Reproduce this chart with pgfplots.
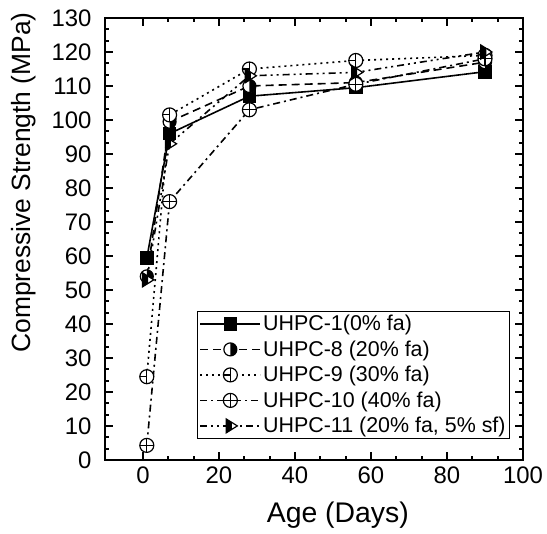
\documentclass[border=0pt]{standalone}
\usepackage{pgfplots}
\pgfplotsset{compat=1.18}
\usepackage{fontspec}
\setmainfont{Liberation Sans}
\pgfdeclareplotmark{halfcircR}{%
  \pgfpathcircle{\pgfpointorigin}{\pgfplotmarksize}\pgfsetfillcolor{white}\pgfusepath{fill}%
  \pgfpathmoveto{\pgfqpoint{0pt}{\pgfplotmarksize}}%
  \pgfpatharc{90}{-90}{\pgfplotmarksize}\pgfpathclose
  \pgfsetfillcolor{black}\pgfusepath{fill}%
  \pgfpathcircle{\pgfpointorigin}{\pgfplotmarksize}\pgfusepath{stroke}%
}
\pgfdeclareplotmark{circvbar}{%
  \pgfpathcircle{\pgfpointorigin}{\pgfplotmarksize}\pgfsetfillcolor{white}\pgfusepath{fill,stroke}%
  \pgfpathmoveto{\pgfqpoint{0pt}{\pgfplotmarksize}}%
  \pgfpathlineto{\pgfqpoint{0pt}{-\pgfplotmarksize}}%
  \pgfpathmoveto{\pgfqpoint{-\pgfplotmarksize}{0pt}}%
  \pgfpathlineto{\pgfqpoint{0pt}{0pt}}%
  \pgfusepath{stroke}%
}
\pgfdeclareplotmark{oplusw}{%
  \pgfpathcircle{\pgfpointorigin}{\pgfplotmarksize}\pgfsetfillcolor{white}\pgfusepath{fill,stroke}%
  \pgfpathmoveto{\pgfqpoint{0pt}{\pgfplotmarksize}}%
  \pgfpathlineto{\pgfqpoint{0pt}{-\pgfplotmarksize}}%
  \pgfpathmoveto{\pgfqpoint{-\pgfplotmarksize}{0pt}}%
  \pgfpathlineto{\pgfqpoint{\pgfplotmarksize}{0pt}}%
  \pgfusepath{stroke}%
}
\pgfdeclareplotmark{halftriR}{%
  \pgfpathmoveto{\pgfqpoint{-0.6\pgfplotmarksize}{\pgfplotmarksize}}%
  \pgfpathlineto{\pgfqpoint{\pgfplotmarksize}{0pt}}%
  \pgfpathlineto{\pgfqpoint{-0.6\pgfplotmarksize}{-\pgfplotmarksize}}%
  \pgfpathclose\pgfsetfillcolor{white}\pgfusepath{fill}%
  \pgfpathmoveto{\pgfqpoint{-0.6\pgfplotmarksize}{\pgfplotmarksize}}%
  \pgfpathlineto{\pgfqpoint{0.2\pgfplotmarksize}{0.5\pgfplotmarksize}}%
  \pgfpathlineto{\pgfqpoint{0.2\pgfplotmarksize}{-0.5\pgfplotmarksize}}%
  \pgfpathlineto{\pgfqpoint{-0.6\pgfplotmarksize}{-\pgfplotmarksize}}%
  \pgfpathclose\pgfsetfillcolor{black}\pgfusepath{fill}%
  \pgfpathmoveto{\pgfqpoint{-0.6\pgfplotmarksize}{\pgfplotmarksize}}%
  \pgfpathlineto{\pgfqpoint{\pgfplotmarksize}{0pt}}%
  \pgfpathlineto{\pgfqpoint{-0.6\pgfplotmarksize}{-\pgfplotmarksize}}%
  \pgfpathclose\pgfusepath{stroke}%
}
\begin{document}
\begin{tikzpicture}
\begin{axis}[name=ax,
  scale only axis, width=418bp, height=442bp,
  xmin=-10, xmax=100, ymin=0, ymax=130,
  xtick={0,20,...,100}, ytick={0,10,...,130},
  minor x tick num=2, minor y tick num=2,
  tick align=inside, tick pos=both,
  major tick length=8bp, minor tick length=4bp,
  axis line style={line width=2.2bp},
  every tick/.style={black, line width=2bp},
  /pgf/number format/assume math mode=true,
  ticklabel style={font=\fontsize{24}{26}\selectfont},
  xticklabel style={yshift=-3bp},
  yticklabel style={xshift=-10bp},
  xlabel={Age (Days)}, ylabel={Compressive Strength (MPa)},
  xlabel style={font=\fontsize{28.5}{31}\selectfont, at={(axis description cs:0.557,0)}, anchor=north, yshift=-38bp},
  ylabel style={font=\fontsize{26.5}{29}\selectfont, at={(axis description cs:0,0.628)}, anchor=south, yshift=65bp},
  legend style={at={(axis description cs:0.22,0.0475)}, anchor=south west,
    font=\fontsize{21.5}{24}\selectfont, draw=black, line width=1.2bp,
    row sep=4.5bp, inner sep=2bp, cells={anchor=west}},
  legend image code/.code={\draw[mark repeat=2,mark phase=2] plot coordinates {(0bp,0bp) (30bp,0bp) (60bp,0bp)};},
  every axis plot/.append style={line width=1.6bp, black},
  clip=false,
]
\addplot[solid, mark=square*, mark size=6bp, mark options={solid}] coordinates {(1,59.4) (7,96) (28,107) (56,109.5) (90,114.2)};
\addlegendentry{UHPC-1(0\% fa)}
\addplot[dash pattern=on 8bp off 5bp, mark=halfcircR, mark size=6.5bp, mark options={solid, line width=1.2bp}] coordinates {(1,54) (7,99.5) (28,110) (56,111) (90,117)};
\addlegendentry{UHPC-8 (20\% fa)}
\addplot[dash pattern=on 2bp off 4bp, mark=circvbar, mark size=7bp, mark options={solid, line width=1.2bp}] coordinates {(1,24.5) (7,101.5) (28,115) (56,117.5) (90,119)};
\addlegendentry{UHPC-9 (30\% fa)}
\addplot[dash pattern=on 7bp off 4bp on 2bp off 4bp, mark=oplusw, mark size=7bp, mark options={solid, line width=1.2bp}] coordinates {(1,4.3) (7,76) (28,103) (56,110.5) (90,118)};
\addlegendentry{UHPC-10 (40\% fa)}
\addplot[dash pattern=on 7bp off 4bp on 2bp off 4bp on 2bp off 4bp, mark=halftriR, mark size=7bp, mark options={solid, line width=1.2bp}] coordinates {(1,53) (7,93) (28,113) (56,114) (90,120)};
\addlegendentry{UHPC-11 (20\% fa, 5\% sf)}
\end{axis}
\pgfresetboundingbox
\path[use as bounding box] (ax.south west) ++(-105bp,-74bp) rectangle ++(547bp,534bp);
\end{tikzpicture}
\end{document}
